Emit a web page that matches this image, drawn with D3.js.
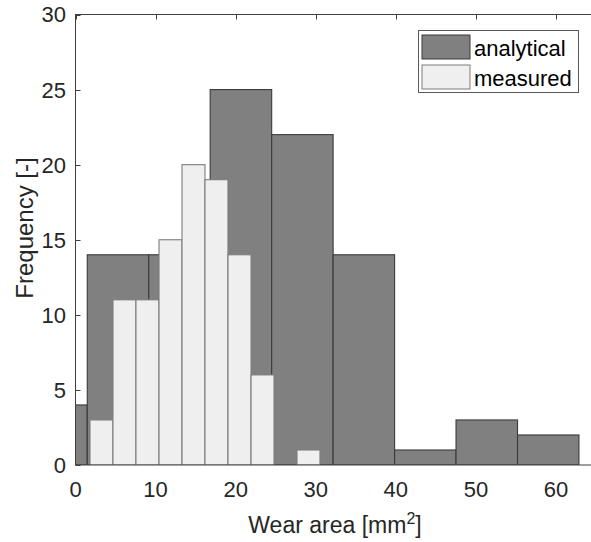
<!DOCTYPE html>
<html>
<head>
<meta charset="utf-8">
<script src="https://cdn.jsdelivr.net/npm/d3@7"></script>
<style>
  html, body { margin: 0; padding: 0; background: #fff; }
  svg { display: block; font-family: "Liberation Sans", Arial, Helvetica, sans-serif; }
</style>
</head>
<body>
<svg id="chart" width="591" height="542"></svg>
<script>
// Histogram bin edges (mm^2) and counts for each series
const analyticalEdges = [-6.20, 1.47, 9.15, 16.82, 24.50, 32.17, 39.85, 47.52, 55.20, 62.87];
const analyticalCounts = [4, 14, 14, 25, 22, 14, 1, 3, 2];
const measuredEdges = [1.81, 4.68, 7.55, 10.43, 13.30, 16.17, 19.04, 21.92, 24.79, 27.66, 30.53];
const measuredCounts = [3, 11, 11, 15, 20, 19, 14, 6, 0, 1];

const xTicks = [0, 10, 20, 30, 40, 50, 60];
const yTicks = [0, 5, 10, 15, 20, 25, 30];
const xDomain = [0, 65];
const yDomain = [0, 30];
const seriesNames = ["analytical", "measured"];

const svg = d3.select("#chart");
const W = 591, H = 542;
const plot = { left: 75.5, top: 14.5, right: 596, bottom: 465 };

const x = d3.scaleLinear().domain(xDomain).range([plot.left, plot.right]);
const y = d3.scaleLinear().domain(yDomain).range([plot.bottom, plot.top]);

const axisColor = "#404040";
const textColor = "#262626";
const tickLen = 5;

svg.append("rect").attr("width", W).attr("height", H).attr("fill", "#fff");

svg.append("defs").append("clipPath").attr("id", "plotClip")
  .append("rect")
  .attr("x", plot.left).attr("y", plot.top)
  .attr("width", plot.right - plot.left).attr("height", plot.bottom - plot.top);

// Inward ticks on all four sides (drawn beneath the bars)
const ticks = svg.append("g").attr("stroke", axisColor).attr("stroke-width", 1);
xTicks.forEach(t => {
  const px = Math.round(x(t)) + 0.5;
  ticks.append("line").attr("x1", px).attr("x2", px).attr("y1", plot.bottom).attr("y2", plot.bottom - tickLen);
  ticks.append("line").attr("x1", px).attr("x2", px).attr("y1", plot.top).attr("y2", plot.top + tickLen);
});
yTicks.forEach(t => {
  const py = Math.round(y(t)) + 0.5;
  ticks.append("line").attr("x1", plot.left).attr("x2", plot.left + tickLen).attr("y1", py).attr("y2", py);
  ticks.append("line").attr("x1", plot.right).attr("x2", plot.right - tickLen).attr("y1", py).attr("y2", py);
});

// Bars
function binData(edges, counts) {
  return counts.map((c, i) => ({ x0: edges[i], x1: edges[i + 1], count: c })).filter(d => d.count > 0);
}

const bars = svg.append("g").attr("clip-path", "url(#plotClip)");

bars.append("g").selectAll("rect")
  .data(binData(analyticalEdges, analyticalCounts))
  .join("rect")
  .attr("x", d => x(d.x0))
  .attr("y", d => y(d.count))
  .attr("width", d => x(d.x1) - x(d.x0))
  .attr("height", d => y(0) - y(d.count))
  .attr("fill", "#808080")
  .attr("stroke", "#3a3a3a")
  .attr("stroke-width", 1.1);

bars.append("g").selectAll("rect")
  .data(binData(measuredEdges, measuredCounts))
  .join("rect")
  .attr("x", d => x(d.x0))
  .attr("y", d => y(d.count))
  .attr("width", d => x(d.x1) - x(d.x0))
  .attr("height", d => y(0) - y(d.count))
  .attr("fill", "#efefef")
  .attr("stroke", "#7c7c7c")
  .attr("stroke-width", 1.1);

// Axis frame lines
const frame = svg.append("g").attr("stroke", axisColor).attr("stroke-width", 1).attr("fill", "none");
frame.append("rect")
  .attr("x", plot.left).attr("y", plot.top)
  .attr("width", plot.right - plot.left).attr("height", plot.bottom - plot.top);

// Tick labels
svg.append("g").selectAll("text")
  .data(xTicks).join("text")
  .attr("x", d => x(d)).attr("y", 497)
  .attr("text-anchor", "middle")
  .attr("font-size", 22).attr("fill", textColor)
  .text(d => d);

svg.append("g").selectAll("text")
  .data(yTicks).join("text")
  .attr("x", 66).attr("y", d => y(d))
  .attr("dy", "0.36em")
  .attr("text-anchor", "end")
  .attr("font-size", 22).attr("fill", textColor)
  .text(d => d);

// Axis titles
const xt = svg.append("text")
  .attr("x", 335).attr("y", 533)
  .attr("text-anchor", "middle")
  .attr("font-size", 23).attr("fill", textColor);
xt.append("tspan").text("Wear area [mm");
xt.append("tspan").attr("font-size", 16).attr("dy", -9).text("2");
xt.append("tspan").attr("dy", 9).text("]");

svg.append("text")
  .attr("transform", "translate(33,228) rotate(-90)")
  .attr("text-anchor", "middle")
  .attr("font-size", 24).attr("fill", textColor)
  .text("Frequency [-]");

// Legend
const legend = svg.append("g");
legend.append("rect")
  .attr("x", 418.5).attr("y", 30.5).attr("width", 160).attr("height", 62)
  .attr("fill", "#fff").attr("stroke", "#5a5a5a").attr("stroke-width", 1);

const legendStyle = [
  { fill: "#808080", stroke: "#3a3a3a" },
  { fill: "#efefef", stroke: "#7c7c7c" }
];
seriesNames.forEach((name, i) => {
  const top = 35 + i * 30;
  legend.append("rect")
    .attr("x", 422).attr("y", top).attr("width", 48).attr("height", 24)
    .attr("fill", legendStyle[i].fill).attr("stroke", legendStyle[i].stroke).attr("stroke-width", 1);
  legend.append("text")
    .attr("x", 474).attr("y", top + 21)
    .attr("font-size", 22).attr("fill", "#000")
    .text(name);
});
</script>
</body>
</html>
